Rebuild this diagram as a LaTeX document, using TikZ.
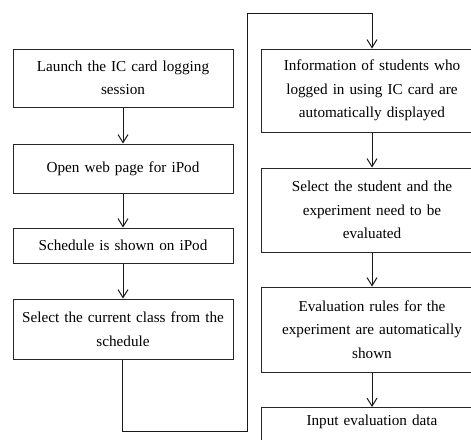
\documentclass[tikz,border=0pt]{standalone}
\usepackage{fontspec}
\setmainfont{Liberation Serif}
\usetikzlibrary{arrows.meta}
\begin{document}
\begin{tikzpicture}[x=1pt,y=-1pt,
  box/.style={draw=black!85, line width=1pt, align=center, inner xsep=5pt, inner ysep=0pt,
    font=\fontsize{15.2}{23.5}\selectfont},
  lbox/.style={box, text width=210pt, minimum width=220pt},
  rbox/.style={box, text width=212pt, minimum width=222pt},
  flow/.style={draw=black!90, line width=1pt, -{Straight Barb[length=8pt,width=10pt]}}]
\useasboundingbox (0,0) rectangle (471,439);
% left column
\node[lbox, minimum height=58pt] (l1) at (123,78) {Launch the IC card logging\\session};
\node[lbox, minimum height=49pt] (l2) at (123,168.5) {Open web page for iPod};
\node[lbox, minimum height=35pt] (l3) at (123,245.5) {Schedule is shown on iPod};
\node[lbox, minimum height=60pt] (l4) at (123,329) {Select the current class from the\\schedule};
% right column
\node[rbox, minimum height=83pt] (r1) at (372,90.5) {Information of students who\\logged in using IC card are\\automatically displayed};
\node[rbox, minimum height=84pt] (r2) at (372,210) {Select the student and the\\experiment need to be\\evaluated};
\node[rbox, minimum height=85pt] (r3) at (372,329.5) {Evaluation rules for the\\experiment are automatically\\shown};
\node[rbox, anchor=north, inner ysep=7pt, text height=11pt, text depth=40pt] (r4) at (372,407) {Input evaluation data};
% connectors
\draw[flow] (l1) -- (l2);
\draw[flow] (l2) -- (l3);
\draw[flow] (l3) -- (l4);
\coordinate (c1) at (122,431);
\coordinate (c2) at (247,431);
\coordinate (c3) at (247,13);
\coordinate (c4) at (372,13);
\draw[flow] (l4.south -| c1) -- (c1) -- (c2) -- (c3) -- (c4) -- (r1.north);
\draw[flow] (r1) -- (r2);
\draw[flow] (r2) -- (r3);
\draw[flow] (r3) -- (r4);
\end{tikzpicture}
\end{document}
